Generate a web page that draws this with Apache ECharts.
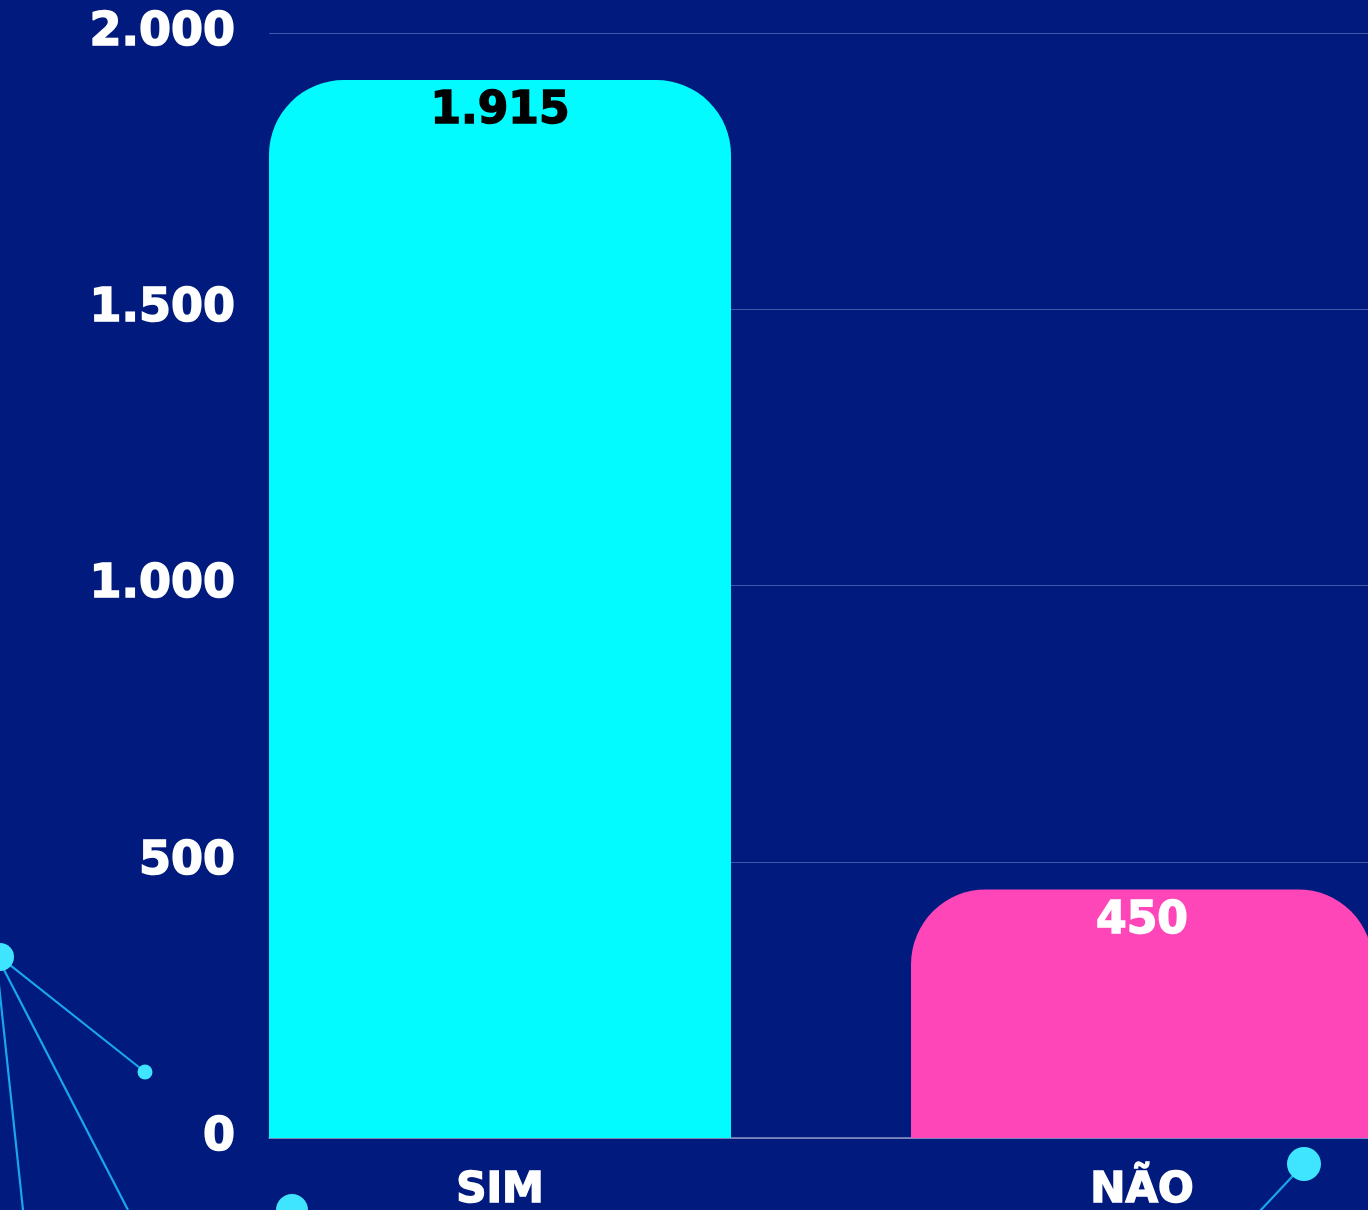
<!DOCTYPE html>
<html>
<head>
<meta charset="utf-8">
<script src="https://cdn.jsdelivr.net/npm/echarts@6/dist/echarts.min.js"></script>
<style>
  html, body { margin: 0; padding: 0; background: #001a7d; }
  #chart { width: 1368px; height: 1210px; }
</style>
</head>
<body>
<div id="chart"></div>
<script>
// dados do gráfico
const categories = ['SIM', 'NÃO'];
const values = [1915, 450];
const barColors = ['#01fbfe', '#ff46b8'];
const labelColors = ['#000000', '#ffffff'];
const yTicks = [0, 500, 1000, 1500, 2000];

const chart = echarts.init(document.getElementById('chart'));

// formata 1500 -> 1.500
function fmt(v) {
  return String(v).replace(/\B(?=(\d{3})+(?!\d))/g, '.');
}

const dotColor = '#3fe5ff';
const lineColor = '#1aa6ec';

const option = {
  backgroundColor: '#001a7d',
  animation: false,
  grid: { left: 269, right: 0, top: 33, bottom: 72, outerBoundsMode: 'none', containLabel: false },
  xAxis: {
    type: 'value',
    min: 0.6402,
    max: 2.352,
    splitLine: { show: false },
    axisTick: { show: false },
    axisLine: { show: true, lineStyle: { color: '#8f97c4', width: 1.5 } },
    axisLabel: {
      customValues: [1, 2],
      formatter: v => categories[Math.round(v) - 1] || '',
      color: '#ffffff',
      fontFamily: 'DejaVu Sans',
      fontWeight: 'bold',
      fontSize: 42,
      margin: 32,
      textBorderColor: '#ffffff',
      textBorderWidth: 1.5
    }
  },
  yAxis: {
    type: 'value',
    min: yTicks[0],
    max: yTicks[yTicks.length - 1],
    interval: 500,
    axisLine: { show: false },
    axisTick: { show: false },
    splitLine: { lineStyle: { color: '#4056a6', width: 1.2 } },
    axisLabel: {
      formatter: v => fmt(v),
      color: '#ffffff',
      fontFamily: 'DejaVu Sans',
      fontWeight: 'bold',
      fontSize: 46,
      margin: 34,
      textBorderColor: '#ffffff',
      textBorderWidth: 1.5
    }
  },
  graphic: [
    { type: 'line', z: -1, shape: { x1: 0, y1: 957, x2: 145, y2: 1072 }, style: { stroke: lineColor, lineWidth: 2.2 } },
    { type: 'line', z: -1, shape: { x1: 0, y1: 962, x2: 128, y2: 1210 }, style: { stroke: lineColor, lineWidth: 2.2 } },
    { type: 'line', z: -1, shape: { x1: -4, y1: 957, x2: 23, y2: 1210 }, style: { stroke: lineColor, lineWidth: 2.2 } },
    { type: 'line', z: -1, shape: { x1: 1304, y1: 1164, x2: 1259, y2: 1212 }, style: { stroke: lineColor, lineWidth: 2.2 } },
    { type: 'circle', z: -1, shape: { cx: 0, cy: 957, r: 14 }, style: { fill: dotColor } },
    { type: 'circle', z: -1, shape: { cx: 145, cy: 1072, r: 7.5 }, style: { fill: dotColor } },
    { type: 'circle', z: -1, shape: { cx: 292, cy: 1210, r: 16 }, style: { fill: dotColor } },
    { type: 'circle', z: -1, shape: { cx: 1304, cy: 1164, r: 17 }, style: { fill: dotColor } }
  ],
  series: [{
    type: 'bar',
    barWidth: 462,
    data: categories.map((c, i) => ({
      value: [i + 1, values[i]],
      itemStyle: { color: barColors[i], borderRadius: [75, 75, 0, 0] },
      label: { color: labelColors[i], textBorderColor: labelColors[i] }
    })),
    label: {
      show: true,
      position: 'insideTop',
      distance: 10,
      formatter: p => fmt(p.value[1]),
      fontFamily: 'DejaVu Sans',
      fontWeight: 'bold',
      fontSize: 44,
      textBorderWidth: 1.5
    }
  }]
};

chart.setOption(option);
</script>
</body>
</html>
